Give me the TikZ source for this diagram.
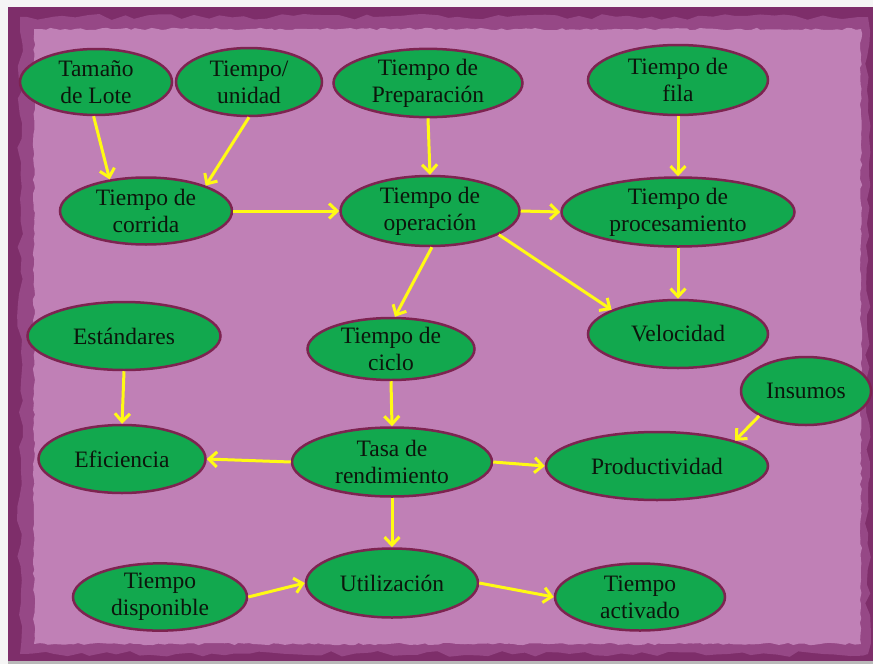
\documentclass[tikz,border=0pt]{standalone}
\usepackage{fontspec}
\setmainfont{Liberation Serif}
\usetikzlibrary{shapes.geometric,arrows.meta,decorations.pathmorphing}

\definecolor{frameout}{RGB}{126,46,106}
\definecolor{framemid}{RGB}{150,72,134}
\definecolor{paper}{RGB}{192,128,182}
\definecolor{bubble}{RGB}{18,168,78}
\definecolor{rim}{RGB}{125,35,80}
\definecolor{link}{RGB}{255,250,20}
\definecolor{ink}{RGB}{12,22,12}

\begin{document}
\begin{tikzpicture}[x=1pt,y=-1pt,
  concept/.style={ellipse, draw=rim, line width=2.5pt, fill=bubble,
    inner sep=0pt, align=center, text=ink,
    font=\fontsize{23.5}{27}\selectfont},
  flow/.style={draw=link, line width=3pt,
    -{Straight Barb[length=8pt,width=15pt,line width=3pt]}}
]
\useasboundingbox (0,0) rectangle (873,664);

% paper background with a torn purple frame
\fill[gray!8] (0,0) rectangle (873,664);
\fill[frameout] (8,7) rectangle (873,661);
\fill[gray!55] (8,661) rectangle (873,664);
\fill[framemid, decorate, decoration={random steps, segment length=12pt, amplitude=3pt}]
  (20,17) rectangle (868,654);
\fill[paper, decorate, decoration={random steps, segment length=5pt, amplitude=1.2pt}]
  (34,29) rectangle (861,644);

% concepts
\node[concept, minimum width=152, minimum height=66] (tam)   at (96,82)   {Tamaño\\de Lote};
\node[concept, minimum width=146, minimum height=68] (uni)   at (249,82)  {Tiempo/\\unidad};
\node[concept, minimum width=189, minimum height=66] (prep)  at (428,83)  {Tiempo de\\Preparación};
\node[concept, minimum width=180, minimum height=70] (fila)  at (678,80)  {Tiempo de\\fila};
\node[concept, minimum width=172, minimum height=67] (corr)  at (146,211) {Tiempo de\\corrida};
\node[concept, minimum width=179, minimum height=70] (ope)   at (430,211) {Tiempo de\\operación};
\node[concept, minimum width=233, minimum height=69] (proc)  at (678,212) {Tiempo de\\procesamiento};
\node[concept, minimum width=193, minimum height=68] (est)   at (124,336) {Estándares};
\node[concept, minimum width=167, minimum height=62] (ciclo) at (391,349) {Tiempo de\\ciclo};
\node[concept, minimum width=180, minimum height=68] (vel)   at (678,334) {Velocidad};
\node[concept, minimum width=130, minimum height=68] (ins)   at (806,391) {Insumos};
\node[concept, minimum width=167, minimum height=68] (efi)   at (122,459) {Eficiencia};
\node[concept, minimum width=200, minimum height=69] (tasa)  at (392,462) {Tasa de\\rendimiento};
\node[concept, minimum width=222, minimum height=68] (prod)  at (657,466) {Productividad};
\node[concept, minimum width=174, minimum height=67] (disp)  at (160,597) {Tiempo\\disponible};
\node[concept, minimum width=172, minimum height=69] (util)  at (392,583) {Utilización};
\node[concept, minimum width=170, minimum height=67] (act)   at (640,597) {Tiempo\\activado};

% connectors
\draw[flow] (tam.-94)  -- (corr.139);
\draw[flow] (uni.south) -- (corr.23);
\draw[flow] (prep.south) -- (ope.north);
\draw[flow] (fila.south) -- (proc.north);
\draw[flow] (corr.east) -- (ope.west);
\draw[flow] (ope.east) -- (proc.west);
\draw[flow] (ope.-87) -- (ciclo.83);
\draw[flow] (ope.-19.5) -- (vel.160);
\draw[flow] (proc.south) -- (vel.north);
\draw[flow] (est.south) -- (efi.north);
\draw[flow] (ciclo.south) -- (tasa.north);
\draw[flow] (tasa.west) -- (efi.east);
\draw[flow] (tasa.east) -- (prod.west);
\draw[flow] (ins.-152) -- (prod.18);
\draw[flow] (tasa.south) -- (util.north);
\draw[flow] (disp.east) -- (util.west);
\draw[flow] (util.east) -- (act.west);
\end{tikzpicture}
\end{document}
